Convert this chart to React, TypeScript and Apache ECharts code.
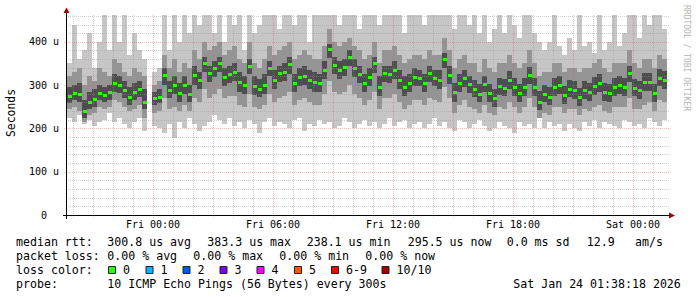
import React, { useEffect, useRef } from "react";
import * as echarts from "echarts";

// ---- time base (minutes relative to Fri 00:00) ----
const STEP = 15;
const START = -258;
const X_MIN = -258;
const X_MAX = 1548;
const Y_MAX = 462;

// ---- series values (microseconds) ----
const median = [
  275, 282, 280, 240, 262, 268, 282, 277, 284, 305,
  300, 289, 273, 284, 290, 262, null, 270, 273, 324,
  289, 300, 282, 300, 280, 324, 312, 352, 328, 340,
  350, 318, 325, 330, 307, 300, 345, 298, 292, 300,
  340, 312, 328, 331, 348, 305, 318, 322, 312, 307,
  305, 335, 383, 347, 335, 342, 365, 340, 326, 305,
  319, 350, 296, 328, 326, 335, 312, 296, 305, 319,
  317, 305, 328, 317, 312, 360, 324, 284, 305, 316,
  302, 292, 280, 303, 282, 270, 297, 294, 312, 296,
  282, 296, 324, 296, 262, 280, 273, 296, 300, 277,
  292, 289, 272, 289, 284, 298, 305, 284, 282, 296,
  300, 296, 328, 294, 289, 307, 307, 282, 317, 312,
];
const outerHi = [
  350, 440, 360, 380, 420, 340, 400, 462, 380, 462,
  400, 462, 370, 420, 380, 360, null, 330, 340, 462,
  380, 462, 400, 462, 420, 462, 440, 462, 462, 420,
  462, 400, 462, 440, 462, 380, 462, 420, 440, 462,
  462, 462, 430, 462, 462, 440, 462, 462, 400, 462,
  462, 462, 462, 462, 440, 462, 462, 462, 430, 462,
  462, 462, 440, 462, 462, 462, 462, 420, 462, 462,
  462, 440, 462, 462, 462, 462, 462, 430, 462, 462,
  440, 462, 420, 462, 400, 430, 462, 420, 462, 440,
  410, 462, 462, 420, 400, 380, 400, 462, 390, 370,
  410, 380, 462, 390, 400, 375, 462, 380, 400, 462,
  390, 420, 462, 462, 410, 462, 440, 462, 462, 430,
];
const outerLo = [
  225, 215, 230, 210, 220, 205, 215, 220, 235, 215,
  225, 210, 200, 215, 225, 195, null, 205, 200, 190,
  210, 178, 215, 200, 225, 210, 195, 205, 215, 230,
  220, 210, 225, 205, 215, 200, 220, 210, 190, 215,
  225, 205, 215, 210, 200, 220, 225, 195, 210, 205,
  220, 210, 215, 200, 205, 225, 215, 200, 210, 220,
  205, 215, 200, 210, 225, 205, 215, 220, 200, 210,
  215, 200, 210, 225, 205, 215, 200, 195, 220, 215,
  200, 210, 220, 205, 195, 200, 215, 205, 200, 190,
  215, 205, 210, 200, 225, 200, 215, 205, 210, 195,
  210, 200, 195, 215, 205, 220, 200, 215, 210, 205,
  200, 220, 215, 205, 210, 200, 225, 215, 205, 220,
];
const midHi = [
  320, 330, 340, 300, 320, 310, 340, 330, 320, 360,
  350, 330, 320, 340, 330, 320, null, 300, 310, 370,
  340, 360, 330, 350, 340, 380, 360, 400, 380, 390,
  400, 370, 380, 390, 360, 350, 400, 350, 340, 360,
  390, 370, 380, 390, 400, 360, 370, 380, 370, 360,
  360, 390, 430, 400, 390, 400, 410, 390, 380, 360,
  370, 400, 350, 380, 380, 390, 370, 350, 360, 370,
  370, 360, 380, 370, 370, 410, 380, 340, 360, 370,
  350, 350, 330, 360, 340, 330, 350, 350, 370, 350,
  340, 350, 380, 350, 320, 330, 330, 350, 350, 330,
  340, 340, 330, 340, 340, 350, 360, 340, 330, 350,
  350, 350, 380, 350, 340, 360, 360, 340, 370, 360,
];
const midLo = [
  245, 250, 240, 215, 230, 235, 250, 245, 250, 265,
  260, 250, 240, 245, 255, 225, null, 235, 240, 270,
  245, 250, 240, 255, 240, 270, 260, 290, 270, 280,
  290, 270, 275, 275, 255, 250, 280, 250, 245, 255,
  280, 260, 270, 275, 285, 255, 265, 270, 260, 255,
  255, 280, 310, 285, 280, 285, 300, 280, 270, 255,
  265, 285, 245, 270, 270, 280, 260, 245, 255, 265,
  265, 255, 270, 265, 260, 295, 270, 235, 255, 265,
  250, 245, 235, 255, 235, 230, 250, 245, 260, 250,
  235, 250, 270, 250, 225, 235, 230, 250, 250, 235,
  245, 245, 230, 245, 240, 250, 255, 240, 235, 250,
  250, 250, 270, 245, 245, 255, 260, 240, 265, 260,
];
const innerHi = [
  295, 300, 305, 265, 285, 290, 300, 295, 300, 325,
  320, 310, 295, 305, 310, 290, null, 285, 290, 340,
  310, 320, 305, 320, 300, 345, 330, 365, 345, 355,
  365, 340, 345, 350, 330, 320, 360, 320, 315, 325,
  355, 335, 345, 350, 365, 325, 340, 345, 335, 330,
  325, 355, 395, 365, 355, 360, 380, 360, 345, 325,
  340, 365, 320, 345, 345, 355, 335, 320, 325, 340,
  335, 325, 345, 335, 335, 375, 345, 305, 325, 335,
  322, 312, 302, 322, 302, 292, 317, 314, 332, 316,
  302, 316, 342, 316, 287, 300, 295, 316, 320, 297,
  312, 309, 294, 309, 304, 318, 325, 304, 302, 316,
  320, 316, 345, 314, 309, 327, 327, 302, 337, 332,
];
const innerLo = [
  258, 265, 262, 225, 245, 250, 265, 260, 265, 285,
  282, 270, 255, 265, 272, 245, null, 255, 258, 300,
  270, 280, 262, 280, 262, 300, 292, 330, 308, 318,
  330, 298, 305, 310, 285, 280, 325, 278, 272, 280,
  320, 292, 308, 310, 325, 285, 298, 300, 292, 285,
  285, 315, 362, 325, 315, 320, 345, 318, 305, 285,
  298, 328, 275, 308, 305, 315, 292, 275, 285, 298,
  297, 285, 308, 297, 292, 340, 302, 262, 285, 296,
  282, 272, 260, 283, 262, 250, 277, 274, 292, 276,
  262, 276, 302, 276, 242, 260, 253, 276, 280, 257,
  272, 269, 252, 269, 264, 278, 285, 264, 262, 276,
  280, 276, 308, 274, 269, 287, 287, 262, 297, 292,
];

// ---- axis ticks ----
const timeTicks = [0, 360, 720, 1080, 1440];
const timeTickLabels = ["Fri 00:00", "Fri 06:00", "Fri 12:00", "Fri 18:00", "Sat 00:00"];
const hourLines = [
  -240, -180, -120, -60, 0, 60, 120, 180, 240, 300, 360, 420, 480, 540, 600, 660,
  720, 780, 840, 900, 960, 1020, 1080, 1140, 1200, 1260, 1320, 1380, 1440, 1500,
];
const valueLines = [20, 40, 60, 80, 100, 120, 140, 160, 180, 200, 220, 240, 260, 280, 300, 320, 340, 360, 380, 400, 420, 440, 460];

// ---- legend content ----
const row1 = [
  [16, "median rtt:"], [107.3, "300.8 us avg"], [207.3, "383.3 us max"], [306.7, "238.1 us min"],
  [407.7, "295.5 us now"], [506.7, "0.0 ms sd"], [586.7, "12.9"], [635, "am/s"],
];
const row2 = [
  [16, "packet loss:"], [107.3, "0.00 % avg"], [193.3, "0.00 % max"], [279.3, "0.00 % min"], [365.3, "0.00 % now"],
];
const row4 = [
  [16, "probe:"], [107.3, "10 ICMP Echo Pings (56 Bytes) every 300s"], [513.3, "Sat Jan 24 01:38:18 2026"],
];
const lossLabels = ["0", "1", "2", "3", "4", "5", "6-9", "10/10"];
const lossColors = ["#26ff00", "#00b8ff", "#0059ff", "#7e00ff", "#ff00ff", "#ff5500", "#ff0000", "#a10000"];
const lossBoxX = [108, 145.5, 182.5, 219.5, 256.5, 294, 331, 381.5];

const MONO = '"DejaVu Sans Mono", monospace';
const MINOR_GRID = "rgba(150,150,150,0.45)";
const MAJOR_GRID = "rgba(225,90,90,0.42)";

export default function App() {
  const ref = useRef<HTMLDivElement>(null);
  useEffect(() => {
    if (!ref.current) return;
    const chart = echarts.init(ref.current, null, { renderer: "svg" });

    const smokeData = median.map((m, i) => [
      START + STEP * i, outerLo[i], midLo[i], innerLo[i], m, innerHi[i], midHi[i], outerHi[i],
    ]);

    const legendFont = `11.6px ${MONO}`;
    const graphics: any[] = [];
    const addRow = (row: any[], y: number) => {
      row.forEach(([x, t]) =>
        graphics.push({
          type: "text", x, y, z: 100,
          style: { text: t, font: legendFont, fill: "#000", align: "left", verticalAlign: "middle" },
        })
      );
    };
    addRow(row1, 241.5);
    addRow(row2, 255.5);
    addRow([[16, "loss color:"]], 269.5);
    lossLabels.forEach((lab, i) => {
      graphics.push({
        type: "rect", z: 100,
        shape: { x: lossBoxX[i] + 0.5, y: 266.5, width: 7, height: 7 },
        style: { fill: lossColors[i], stroke: "#222", lineWidth: 1 },
      });
      graphics.push({
        type: "text", x: lossBoxX[i] + 15, y: 269.5, z: 100,
        style: { text: lab, font: legendFont, fill: "#000", align: "left", verticalAlign: "middle" },
      });
    });
    addRow(row4, 283.5);
    graphics.push({
      type: "text", x: 11, y: 113, rotation: Math.PI / 2, z: 100,
      style: { text: "Seconds", font: `11.4px ${MONO}`, fill: "#000", align: "center", verticalAlign: "middle" },
    });
    graphics.push({
      type: "text", x: 686, y: 5, rotation: -Math.PI / 2, z: 100,
      style: { text: "RRDTOOL / TOBI OETIKER", font: `8px ${MONO}`, fill: "#b4b4b4", align: "left", verticalAlign: "middle" },
    });
    graphics.push({ type: "line", z: 100, shape: { x1: 63, y1: 215.5, x2: 670, y2: 215.5 }, style: { stroke: "#000", lineWidth: 1 } });
    graphics.push({ type: "line", z: 100, shape: { x1: 66.5, y1: 219, x2: 66.5, y2: 11 }, style: { stroke: "#000", lineWidth: 1 } });
    graphics.push({ type: "polygon", z: 101, shape: { points: [[669, 212.5], [675, 215.5], [669, 218.5]] }, style: { fill: "#a00000" } });
    graphics.push({ type: "polygon", z: 101, shape: { points: [[63.5, 13], [66.5, 7.5], [69.5, 13]] }, style: { fill: "#a00000" } });

    chart.setOption({
      animation: false,
      backgroundColor: "#ffffff",
      grid: { left: 67, top: 15, width: 602, height: 200, containLabel: false },
      xAxis: {
        type: "value", min: X_MIN, max: X_MAX,
        axisLine: { show: false }, axisTick: { show: false }, splitLine: { show: false },
        axisLabel: {
          customValues: timeTicks,
          formatter: (v: number) => timeTickLabels[timeTicks.indexOf(v)] ?? "",
          fontFamily: MONO, fontSize: 10, color: "#000", margin: 4,
        },
      },
      yAxis: {
        type: "value", min: 0, max: Y_MAX, interval: 100,
        axisLine: { show: false }, axisTick: { show: false }, splitLine: { show: false },
        axisLabel: {
          showMaxLabel: false,
          formatter: (v: number) => (v === 0 ? "{z|0}" : `${v} u`),
          fontFamily: MONO, fontSize: 10, color: "#000", margin: 8,
          rich: { z: { fontFamily: MONO, fontSize: 10, color: "#000", padding: [0, 12, 0, 0] } },
        },
      },
      graphic: graphics,
      series: [
        {
          type: "custom", z: 1, silent: true,
          data: smokeData,
          encode: { x: 0, y: [1, 7] },
          renderItem: (_p: any, api: any) => {
            const t = api.value(0);
            if (isNaN(api.value(4))) return null;
            const x0 = Math.round(api.coord([t, 0])[0]);
            const x1 = Math.round(api.coord([t + STEP, 0])[0]);
            const band = (lo: number, hi: number, fill: string) => {
              const yl = Math.round(api.coord([t, lo])[1]);
              const yh = Math.round(api.coord([t, hi])[1]);
              return { type: "rect", shape: { x: x0, y: yh, width: x1 - x0, height: yl - yh }, style: { fill } };
            };
            return {
              type: "group",
              children: [
                band(api.value(1), api.value(7), "#c6c6c6"),
                band(api.value(2), api.value(6), "#949494"),
                band(api.value(3), api.value(5), "#4e4e4e"),
              ],
            };
          },
        },
        {
          type: "custom", z: 2, silent: true,
          data: hourLines.map((h) => [h, 0]),
          encode: { x: 0, y: 1 },
          renderItem: (_p: any, api: any) => {
            const t = api.value(0);
            const major = t % 180 === 0;
            const x = Math.round(api.coord([t, 0])[0]) + 0.5;
            const yb = api.coord([t, 0])[1] + 3;
            const yt = api.coord([t, Y_MAX])[1];
            return {
              type: "line",
              shape: { x1: x, y1: yb, x2: x, y2: yt },
              style: { stroke: major ? MAJOR_GRID : MINOR_GRID, lineWidth: 1, lineDash: [1, 1] },
            };
          },
        },
        {
          type: "custom", z: 2, silent: true,
          data: valueLines.map((v) => [X_MIN, v]),
          encode: { x: 0, y: 1 },
          renderItem: (_p: any, api: any) => {
            const v = api.value(1);
            const major = v % 100 === 0;
            const p0 = api.coord([X_MIN, v]);
            const p1 = api.coord([X_MAX, v]);
            const y = Math.round(p0[1]) + 0.5;
            return {
              type: "line",
              shape: { x1: p0[0] - (major ? 3 : 1), y1: y, x2: p1[0], y2: y },
              style: { stroke: major ? MAJOR_GRID : MINOR_GRID, lineWidth: 1, lineDash: [1, 1] },
            };
          },
        },
        {
          type: "custom", z: 3, silent: true,
          data: median.map((m, i) => [START + STEP * i, m]),
          encode: { x: 0, y: 1 },
          renderItem: (_p: any, api: any) => {
            const t = api.value(0);
            const m = api.value(1);
            if (isNaN(m)) return null;
            const x0 = Math.round(api.coord([t, 0])[0]);
            const y = Math.round(api.coord([t, m])[1]);
            return { type: "rect", shape: { x: x0 + 1, y: y - 1, width: 4, height: 3 }, style: { fill: "#26ff00" } };
          },
        },
      ],
    });
    return () => chart.dispose();
  }, []);
  return <div ref={ref} style={{ position: "absolute", left: 0, top: 0, width: 697, height: 297 }} />;
}
